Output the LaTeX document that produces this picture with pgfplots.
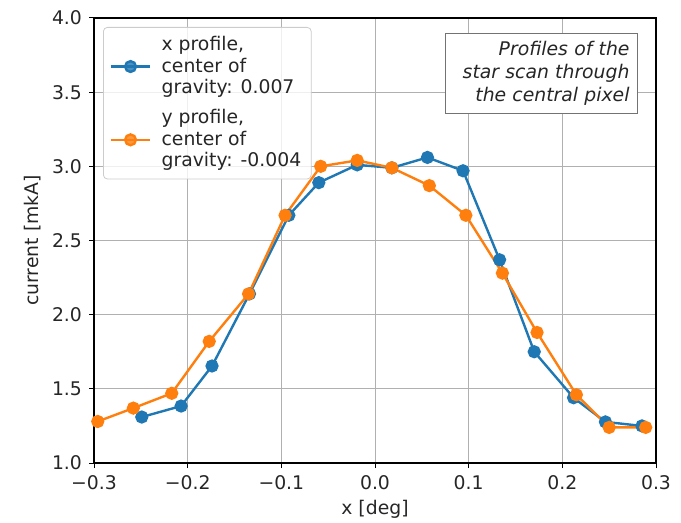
\documentclass[border=0pt]{standalone}
\usepackage{fontspec}
\setmainfont{DejaVu Sans}
\usepackage{pgfplots}
\pgfplotsset{compat=1.18}
\definecolor{tabblue}{HTML}{1F77B4}
\definecolor{taborange}{HTML}{FF7F0E}
\definecolor{gridgray}{HTML}{B0B0B0}
\begin{document}
\begin{tikzpicture}
\begin{axis}[
  name=ax,
  scale only axis,
  width=281pt, height=222.5pt,
  xmin=-0.3, xmax=0.3, ymin=1.0, ymax=4.0,
  xtick={-0.3,-0.2,-0.1,0,0.1,0.2,0.3},
  xticklabels={−0.3,−0.2,−0.1,0.0,0.1,0.2,0.3},
  ytick={1.0,1.5,2.0,2.5,3.0,3.5,4.0},
  yticklabels={1.0,1.5,2.0,2.5,3.0,3.5,4.0},
  tick align=outside,
  major tick length=2.5pt,
  tick style={black, line width=0.5pt},
  xtick pos=bottom, ytick pos=left,
  grid=major,
  major grid style={gridgray, line width=0.5pt},
  axis line style={black, line width=0.6pt},
  ticklabel style={font=\fontsize{9.4}{11}\selectfont, text=black!85},
  label style={font=\fontsize{9.4}{11}\selectfont, text=black!85},
  xlabel={x [deg]},
  ylabel={current [mkA]},
  x label style={at={(axis description cs:0.5,0)}, anchor=center, yshift=-23pt},
  y label style={at={(axis description cs:-0.1085,0.5)}, anchor=center},
  legend style={at={(axis description cs:0,1)}, anchor=north west, xshift=4.5pt, yshift=-4.5pt,
    draw=black!20, rounded corners=2pt, fill=white, fill opacity=0.8, text opacity=1,
    cells={align=left}, font=\fontsize{9.4}{10.75}\selectfont, text=black!85,
    row sep=2.5pt, column sep=3pt, inner xsep=3pt, inner ysep=2.5pt},
  legend cell align=left,
  legend image code/.code={\draw[mark repeat=2,mark phase=2,#1]
     plot coordinates {(0cm,0cm) (0.35cm,0cm) (0.7cm,0cm)};},
]
\addplot[tabblue, line width=1.2pt, mark=*, mark size=2.7pt, mark options={solid, fill=tabblue, draw=tabblue}]
coordinates {
(-0.249,1.31) (-0.207,1.384) (-0.174,1.654) (-0.134,2.14) (-0.092,2.67)
(-0.060,2.89) (-0.019,3.01) (0.018,2.99) (0.056,3.06) (0.094,2.97)
(0.133,2.37) (0.170,1.75) (0.212,1.44) (0.246,1.277) (0.285,1.25)
};
\addlegendentry{x profile,\\center of\\gravity: 0.007}
\addplot[taborange, line width=1.2pt, mark=*, mark size=2.7pt, mark options={solid, fill=taborange, draw=taborange}]
coordinates {
(-0.296,1.28) (-0.258,1.37) (-0.217,1.47) (-0.177,1.82) (-0.135,2.14)
(-0.096,2.67) (-0.058,3.00) (-0.019,3.04) (0.018,2.99) (0.058,2.87)
(0.097,2.67) (0.136,2.28) (0.173,1.88) (0.215,1.46) (0.250,1.24) (0.289,1.24)
};
\addlegendentry{y profile,\\center of\\gravity: -0.004}
\node[anchor=north east, draw=black!55, fill=white, line width=0.5pt, align=right,
  font=\fontsize{9.4}{11.5}\selectfont\itshape, text=black!85, inner sep=4pt, text width=88pt]
  at ([xshift=-9pt, yshift=-7.5pt]rel axis cs:1,1)
  {Profiles of the\\star scan through\\the central pixel};
\end{axis}
\pgfresetboundingbox
\path[use as bounding box] ([shift={(-47pt,-29.5pt)}]ax.south west) rectangle ([shift={(12.5pt,9pt)}]ax.north east);
\end{tikzpicture}
\end{document}
